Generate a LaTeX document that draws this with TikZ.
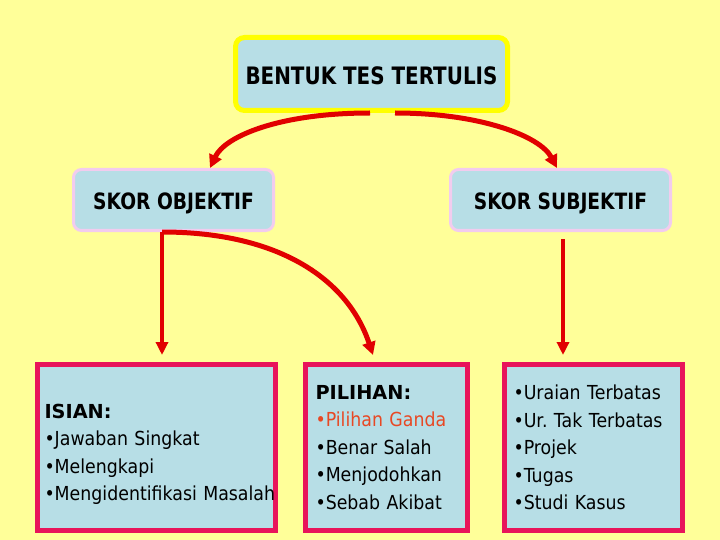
\documentclass[tikz,border=0pt]{standalone}
\usepackage{fontspec}
\setmainfont{DejaVu Sans}[FakeStretch=0.9]
\newfontfamily\titlefont{DejaVu Sans}[FakeStretch=0.83]
\newfontfamily\widefont{DejaVu Sans}
\usetikzlibrary{arrows.meta,calc}
\definecolor{bgyellow}{RGB}{255,255,153}
\definecolor{boxblue}{RGB}{183,222,230}
\definecolor{topborder}{RGB}{255,255,0}
\definecolor{midborder}{RGB}{242,204,238}
\definecolor{lowborder}{RGB}{232,20,90}
\definecolor{arrowred}{RGB}{225,0,0}
\definecolor{orangered}{RGB}{232,72,36}
\begin{document}
\begin{tikzpicture}[x=1pt,y=-1pt,
  topbox/.style={draw=topborder,line width=5pt,fill=boxblue,rounded corners=9pt,
    minimum width=272pt,minimum height=73pt,inner sep=0pt,
    text height=21.5pt,text depth=0pt,
    font=\titlefont\bfseries\fontsize{24}{28}\selectfont},
  midbox/.style={draw=midborder,line width=3pt,fill=boxblue,rounded corners=8pt,
    minimum height=61pt,inner sep=0pt,text height=20pt,text depth=0pt,
    font=\titlefont\bfseries\fontsize{22.5}{26}\selectfont},
  lowbox/.style={draw=lowborder,line width=5pt,fill=boxblue,
    minimum height=166pt,inner sep=0pt,align=left,
    font=\fontsize{19.3}{27.5}\selectfont},
  redcurve/.style={draw=arrowred,line width=5pt,-{Triangle[length=13pt,width=13pt]}},
  redline/.style={draw=arrowred,line width=4pt,-{Triangle[length=13pt,width=12pt]}}
]
\useasboundingbox (0,0) rectangle (720,540);
\fill[bgyellow] (0,0) rectangle (720,540);

\node[topbox] (top) at (371.5,74) {BENTUK TES TERTULIS};
\node[midbox,minimum width=200pt] (obj) at (173.5,200) {SKOR OBJEKTIF};
\node[midbox,minimum width=220pt] (subj) at (560.5,200) {SKOR SUBJEKTIF};

\node[lowbox,minimum width=238pt,text width=224pt] (isian) at (156.5,447.5)
  {\rule{0pt}{28pt}{\widefont\bfseries ISIAN:}\\•Jawaban Singkat\\•Melengkapi\\\mbox{•Mengidentifikasi Masalah}};
\node[lowbox,minimum width=162pt,text width=142pt] (pil) at (386.5,447.5)
  {{\widefont\bfseries PILIHAN:}\\{\color{orangered}•Pilihan Ganda}\\•Benar Salah\\•Menjodohkan\\•Sebab Akibat};
\node[lowbox,minimum width=178pt,text width=160pt] (uraian) at (593.5,447.5)
  {•Uraian Terbatas\\•Ur.\ Tak Terbatas\\•Projek\\•Tugas\\•Studi Kasus};

\coordinate (o1) at ($(obj.south)+(-11.5,0)$);
\coordinate (s1) at ($(subj.south)+(2.5,7)$);

\draw[redcurve] ($(top.south)+(-1.5,0)$) .. controls +(-90,0) and +(15,-32) .. ($(obj.north)+(36.5,0)$);
\draw[redcurve] ($(top.south)+(23.5,0)$) .. controls +(85,0) and +(-17,-32) .. ($(subj.north)+(-3.5,0)$);
\draw[redline] (o1) -- ($(o1 |- isian.north)+(0,-7)$);
\draw[redcurve] (o1) .. controls +(118,0) and +(-25,-75) .. ($(pil.north)+(-13.5,-7)$);
\draw[redline] (s1) -- ($(s1 |- uraian.north)+(0,-7)$);
\end{tikzpicture}
\end{document}
